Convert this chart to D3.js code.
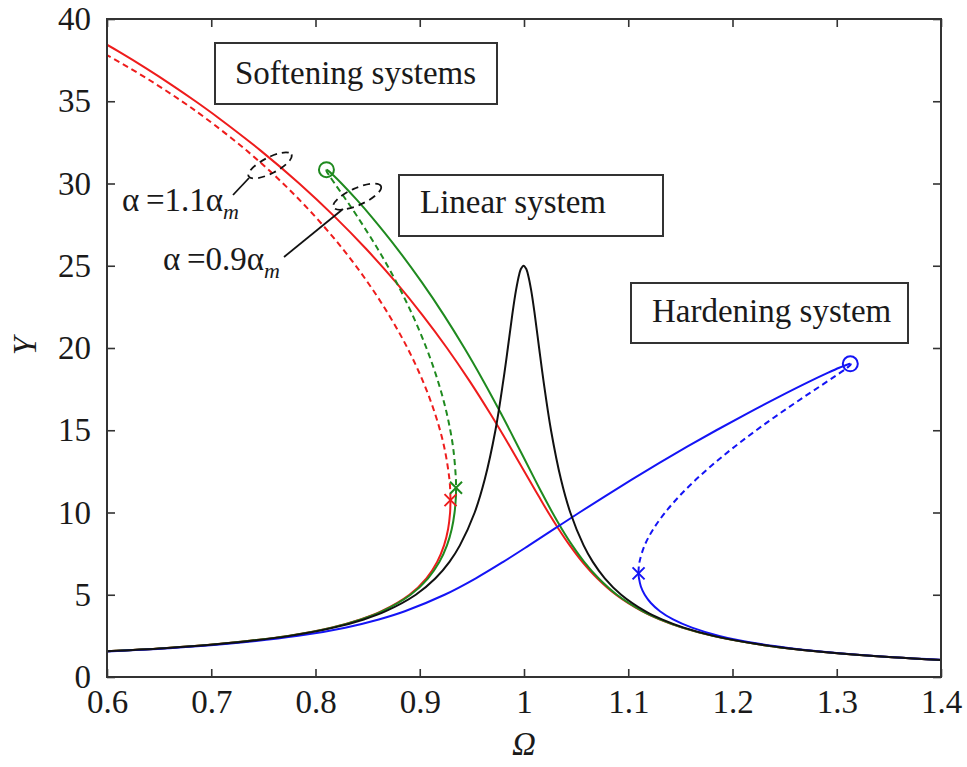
<!DOCTYPE html>
<html>
<head>
<meta charset="utf-8">
<script src="https://cdn.jsdelivr.net/npm/d3@7"></script>
<style>
  html, body { margin: 0; padding: 0; background: #fff; }
  svg { display: block; }
  text { font-family: "Liberation Serif", "Times New Roman", serif; fill: #1a1a1a; }
</style>
</head>
<body>
<svg id="chart" width="967" height="767"></svg>
<script>
// ---- axis ticks ----
const xTicks = [0.6, 0.7, 0.8, 0.9, 1.0, 1.1, 1.2, 1.3, 1.4];
const xTickLabels = ["0.6", "0.7", "0.8", "0.9", "1", "1.1", "1.2", "1.3", "1.4"];
const yTicks = [0, 5, 10, 15, 20, 25, 30, 35, 40];
const yTickLabels = ["0", "5", "10", "15", "20", "25", "30", "35", "40"];

// ---- frequency response branches, [Omega, Y] ----
// linear system
const linearBranch = [
  [0.5777, 1.5], [0.6551, 1.75], [0.7077, 2], [0.7754, 2.5], [0.8175, 3], [0.8463, 3.5],
  [0.8674, 4], [0.8962, 5], [0.9151, 6], [0.9285, 7], [0.9385, 8], [0.9527, 10], [0.9623, 12],
  [0.9726, 15], [0.9801, 18], [0.9845, 20], [0.9887, 22], [0.9923, 23.5], [0.9955, 24.5],
  [0.9970, 24.8], [0.9996, 25], [1.0022, 24.8], [1.0037, 24.5], [1.0069, 23.5], [1.0104, 22],
  [1.0145, 20], [1.0187, 18], [1.0259, 15], [1.0355, 12], [1.0444, 10], [1.0572, 8], [1.0660, 7],
  [1.0775, 6], [1.0932, 5], [1.1162, 4], [1.1323, 3.5], [1.1533, 3], [1.1820, 2.5], [1.2238, 2],
  [1.2527, 1.75], [1.2902, 1.5], [1.3534, 1.2], [1.4000, 1.04]
];

// softening, alpha = 1.1 alpha_m (red)
const red11Upper = [
  [0.5842, 39], [0.6118, 38], [0.6376, 37], [0.6619, 36], [0.6849, 35], [0.7067, 34],
  [0.7474, 32], [0.7844, 30], [0.8181, 28], [0.8489, 26], [0.8770, 24], [0.9026, 22],
  [0.9261, 20], [0.9477, 18], [0.9677, 16], [0.9866, 14], [1.0048, 12], [1.0140, 11],
  [1.0233, 10], [1.0332, 9], [1.0439, 8], [1.0559, 7], [1.0702, 6], [1.0882, 5], [1.1131, 4],
  [1.1299, 3.5], [1.1516, 3], [1.1809, 2.5], [1.2231, 2], [1.2522, 1.75], [1.2898, 1.5],
  [1.3531, 1.2], [1.3998, 1.04]
];
const red11Unstable = [
  [0.5645, 39], [0.5944, 38], [0.6222, 37], [0.6479, 36], [0.6718, 35], [0.6940, 34],
  [0.7340, 32], [0.7689, 30], [0.7995, 28], [0.8264, 26], [0.8500, 24], [0.8705, 22],
  [0.8882, 20], [0.9029, 18], [0.9147, 16], [0.9234, 14], [0.9285, 12], [0.9294, 11],
  [0.9295, 10.75]
];
const red11Lower = [
  [0.9295, 10.75], [0.9294, 10.5], [0.9291, 10], [0.9272, 9], [0.9233, 8], [0.9167, 7],
  [0.9064, 6], [0.8901, 5], [0.8633, 4], [0.8431, 3.5], [0.8151, 3], [0.7736, 2.5],
  [0.7064, 2], [0.6541, 1.75], [0.5768, 1.5]
];

// softening, alpha = 0.9 alpha_m (green)
const green09Upper = [
  [0.8105, 30.84], [0.8127, 30.75], [0.8171, 30.5], [0.8250, 30], [0.8397, 29], [0.8534, 28],
  [0.8788, 26], [0.9019, 24], [0.9232, 22], [0.9428, 20], [0.9610, 18], [0.9781, 16],
  [0.9944, 14], [1.0105, 12], [1.0187, 11], [1.0272, 10], [1.0363, 9], [1.0463, 8],
  [1.0577, 7], [1.0715, 6], [1.0891, 5], [1.1137, 4], [1.1304, 3.5], [1.1519, 3],
  [1.1811, 2.5], [1.2232, 2], [1.2523, 1.75], [1.2899, 1.5], [1.3532, 1.2], [1.3998, 1.04]
];
const green09Unstable = [
  [0.8105, 30.84], [0.8106, 30.75], [0.8130, 30.5], [0.8184, 30], [0.8294, 29], [0.8400, 28],
  [0.8599, 26], [0.8776, 24], [0.8931, 22], [0.9064, 20], [0.9174, 18], [0.9260, 16],
  [0.9319, 14], [0.9347, 12], [0.9348, 11.5]
];
const green09Lower = [
  [0.9348, 11.5], [0.9347, 11], [0.9334, 10], [0.9307, 9], [0.9261, 8], [0.9189, 7],
  [0.9080, 6], [0.8912, 5], [0.8641, 4], [0.8437, 3.5], [0.8155, 3], [0.7739, 2.5],
  [0.7067, 2], [0.6543, 1.75], [0.5770, 1.5]
];

// hardening system (blue)
const hardLower = [
  [1.3130, 19.04], [1.3105, 19], [1.3024, 18.8], [1.2918, 18.5], [1.2751, 18], [1.2436, 17],
  [1.2135, 16], [1.1845, 15], [1.1565, 14], [1.1295, 13], [1.1033, 12], [1.0780, 11],
  [1.0532, 10], [1.0290, 9], [1.0048, 8], [0.9801, 7], [0.9538, 6], [0.9238, 5],
  [0.8857, 4], [0.8607, 3.5], [0.8285, 3], [0.7834, 2.5], [0.7133, 2], [0.6598, 1.75],
  [0.5816, 1.5]
];
const hardUnstable = [
  [1.3130, 19.04], [1.3135, 19], [1.3100, 18.8], [1.3034, 18.5], [1.2917, 18], [1.2680, 17],
  [1.2449, 16], [1.2228, 15], [1.2020, 14], [1.1827, 13], [1.1649, 12], [1.1491, 11],
  [1.1354, 10], [1.1241, 9], [1.1157, 8], [1.1108, 7], [1.1099, 6.5], [1.1099, 6.3]
];
const hardUpperFreq = [
  [1.1099, 6.3], [1.1099, 6.2], [1.1103, 6], [1.1121, 5.5], [1.1158, 5], [1.1217, 4.5],
  [1.1304, 4], [1.1430, 3.5], [1.1611, 3], [1.1873, 2.5], [1.2270, 2], [1.2551, 1.75],
  [1.2920, 1.5], [1.3544, 1.2], [1.4007, 1.04]
];

// peak points (circles) and jump points (crosses)
const peakPoints = [[0.8105, 30.84, "green"], [1.3130, 19.04, "blue"]];
const jumpPoints = [[0.9295, 10.75, "red"], [0.9348, 11.5, "green"], [1.1099, 6.3, "blue"]];

// ---- layout ----
const W = 967, H = 767;
const plot = { left: 107, right: 941, top: 19, bottom: 677 };
const colors = { red: "#ee1c1c", green: "#1f8a1f", blue: "#1414f5", black: "#111111" };
const svg = d3.select("#chart");

const x = d3.scaleLinear().domain([0.6, 1.4]).range([plot.left, plot.right]);
const y = d3.scaleLinear().domain([0, 40]).range([plot.bottom, plot.top]);

svg.append("defs").append("clipPath").attr("id", "plotClip")
  .append("rect")
  .attr("x", plot.left).attr("y", plot.top)
  .attr("width", plot.right - plot.left).attr("height", plot.bottom - plot.top);

const line = d3.line()
  .x(d => x(d[0])).y(d => y(d[1]))
  .curve(d3.curveCatmullRom.alpha(0.5));

const series = [
  { data: red11Upper, color: colors.red, dash: null },
  { data: red11Unstable, color: colors.red, dash: "6,4" },
  { data: red11Lower, color: colors.red, dash: null },
  { data: green09Upper, color: colors.green, dash: null },
  { data: green09Unstable, color: colors.green, dash: "6,4" },
  { data: green09Lower, color: colors.green, dash: null },
  { data: hardLower, color: colors.blue, dash: null },
  { data: hardUnstable, color: colors.blue, dash: "6,4" },
  { data: hardUpperFreq, color: colors.blue, dash: null },
  { data: linearBranch, color: colors.black, dash: null }
];

const gCurves = svg.append("g").attr("clip-path", "url(#plotClip)");
gCurves.selectAll("path.branch")
  .data(series)
  .join("path")
  .attr("class", "branch")
  .attr("d", d => line(d.data))
  .attr("fill", "none")
  .attr("stroke", d => d.color)
  .attr("stroke-width", 2)
  .attr("stroke-dasharray", d => d.dash)
  .attr("stroke-linejoin", "round");

// circles at the peaks
svg.append("g").selectAll("circle")
  .data(peakPoints)
  .join("circle")
  .attr("cx", d => x(d[0])).attr("cy", d => y(d[1]))
  .attr("r", 7.5)
  .attr("fill", "none")
  .attr("stroke", d => colors[d[2]])
  .attr("stroke-width", 2);

// crosses at the jump-down points
svg.append("g").selectAll("path")
  .data(jumpPoints)
  .join("path")
  .attr("transform", d => `translate(${x(d[0])},${y(d[1])})`)
  .attr("d", "M-6,-6L6,6M-6,6L6,-6")
  .attr("fill", "none")
  .attr("stroke", d => colors[d[2]])
  .attr("stroke-width", 2);

// ---- axes: inward ticks on all four sides ----
const axisColor = "#333";
function styleAxis(g) {
  g.select(".domain").remove();
  g.selectAll(".tick line").attr("stroke", axisColor).attr("stroke-width", 1.6);
  g.selectAll(".tick text")
    .attr("fill", "#1a1a1a")
    .style("font-family", "'Liberation Serif', 'Times New Roman', serif")
    .style("font-size", "33px");
}

svg.append("g")
  .attr("transform", `translate(0,${plot.bottom})`)
  .call(d3.axisBottom(x).tickValues(xTicks).tickFormat((d, i) => xTickLabels[i]).tickSize(-8).tickPadding(13))
  .call(styleAxis);

svg.append("g")
  .attr("transform", `translate(0,${plot.top})`)
  .call(d3.axisTop(x).tickValues(xTicks).tickFormat("").tickSize(-8))
  .call(styleAxis);

svg.append("g")
  .attr("transform", `translate(${plot.left},0)`)
  .call(d3.axisLeft(y).tickValues(yTicks).tickFormat((d, i) => yTickLabels[i]).tickSize(-8).tickPadding(16))
  .call(styleAxis);

svg.append("g")
  .attr("transform", `translate(${plot.right},0)`)
  .call(d3.axisRight(y).tickValues(yTicks).tickFormat("").tickSize(-8))
  .call(styleAxis);

svg.append("rect")
  .attr("x", plot.left).attr("y", plot.top)
  .attr("width", plot.right - plot.left).attr("height", plot.bottom - plot.top)
  .attr("fill", "none").attr("stroke", axisColor).attr("stroke-width", 2);

// axis titles
svg.append("text")
  .attr("x", (plot.left + plot.right) / 2).attr("y", 755)
  .attr("text-anchor", "middle")
  .style("font-size", "33px").style("font-style", "italic")
  .text("Ω");

svg.append("text")
  .attr("transform", `translate(36,346) rotate(-90)`)
  .attr("text-anchor", "middle")
  .style("font-size", "33px").style("font-style", "italic")
  .text("Y");

// ---- boxed labels ----
const boxes = [
  { text: "Softening systems", x: 215, y: 43, w: 282, h: 61, tx: 235, ty: 84 },
  { text: "Linear system", x: 399, y: 175, w: 264, h: 61, tx: 420, ty: 213 },
  { text: "Hardening system", x: 631, y: 283, w: 277, h: 60, tx: 652, ty: 322 }
];
const gBoxes = svg.append("g");
boxes.forEach(b => {
  gBoxes.append("rect")
    .attr("x", b.x).attr("y", b.y).attr("width", b.w).attr("height", b.h)
    .attr("fill", "#fff").attr("stroke", axisColor).attr("stroke-width", 2);
  gBoxes.append("text")
    .attr("x", b.tx).attr("y", b.ty)
    .style("font-size", "33px")
    .text(b.text);
});

// ---- alpha annotations: dashed ellipses with leader lines ----
const notes = [
  { label: "1.1", lx: 122, ly: 211, ex: 0.7564, ey: 31.1, rx: 24, ry: 8, rot: -27,
    lead: [[233, 195], [249, 178]] },
  { label: "0.9", lx: 163, ly: 270, ex: 0.8400, ey: 29.2, rx: 26, ry: 8.5, rot: -24,
    lead: [[284, 257], [343, 209]] }
];
const gNotes = svg.append("g");
notes.forEach(n => {
  gNotes.append("ellipse")
    .attr("transform", `translate(${x(n.ex)},${y(n.ey)}) rotate(${n.rot})`)
    .attr("rx", n.rx).attr("ry", n.ry)
    .attr("fill", "none").attr("stroke", "#111")
    .attr("stroke-width", 1.8).attr("stroke-dasharray", "7,5");
  gNotes.append("line")
    .attr("x1", n.lead[0][0]).attr("y1", n.lead[0][1])
    .attr("x2", n.lead[1][0]).attr("y2", n.lead[1][1])
    .attr("stroke", "#111").attr("stroke-width", 1.8);
  const t = gNotes.append("text")
    .attr("x", n.lx).attr("y", n.ly)
    .style("font-size", "33px");
  t.append("tspan").text("α\u2009=" + n.label + "α");
  t.append("tspan")
    .attr("dy", 8)
    .style("font-size", "22px").style("font-style", "italic")
    .text("m");
});
</script>
</body>
</html>
